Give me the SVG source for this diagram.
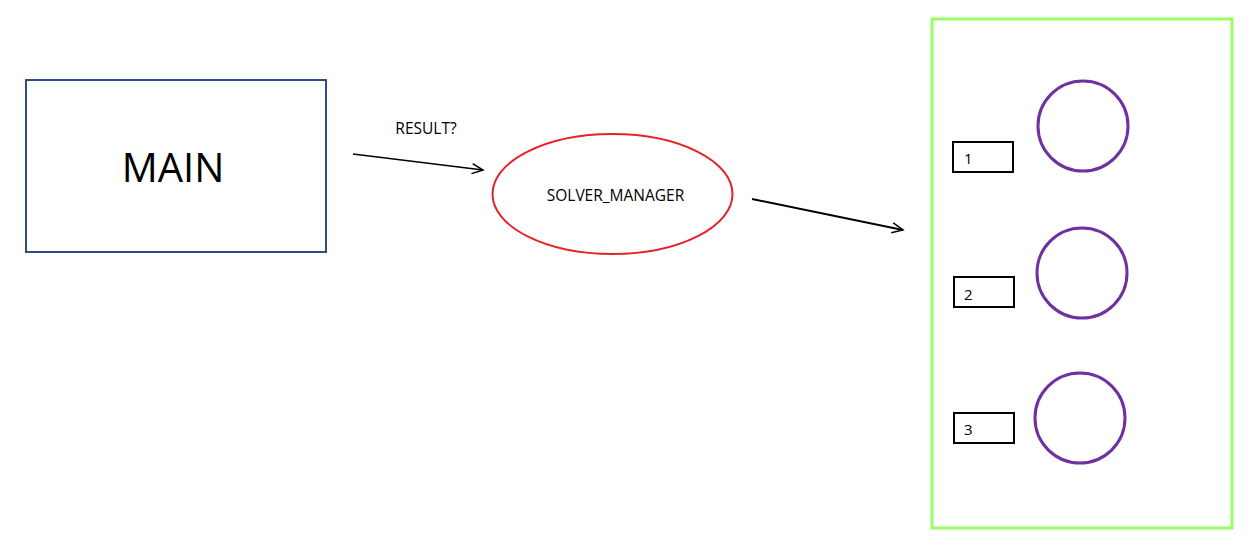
<svg xmlns="http://www.w3.org/2000/svg" width="1257" height="544" viewBox="0 0 1257 544">
<style>
text{font-family:"Open Sans","Noto Sans",sans-serif;fill:#000}
.lbl{font-size:15.5px}
.num{font-size:15px}
.box{fill:#fff;stroke:#000;stroke-width:2}
.circ{fill:none;stroke:#7030A0;stroke-width:3}
.conn{fill:none;stroke:#000}
</style>
<defs>
<marker id="arr" markerWidth="14" markerHeight="12" refX="12" refY="6" orient="auto" markerUnits="userSpaceOnUse">
<path d="M1,1 L12,6 L1,11" fill="none" stroke="#000" stroke-width="1.5"/>
</marker>
</defs>
<rect width="1257" height="544" fill="#fff"/>
<g id="main">
<rect x="26" y="80" width="300" height="172" fill="#fff" stroke="#2F4B8A" stroke-width="2"/>
<text x="173" y="182" font-size="40" text-anchor="middle">MAIN</text>
</g>
<g id="solver_manager">
<ellipse cx="612.5" cy="194" rx="120" ry="60" fill="#fff" stroke="#E8202A" stroke-width="2"/>
<text class="lbl" x="615.5" y="201" text-anchor="middle">SOLVER_MANAGER</text>
</g>
<g id="pool">
<rect x="932" y="19" width="300" height="509" fill="none" stroke="#99FF66" stroke-width="3"/>
</g>
<g id="worker1">
<rect class="box" x="953" y="142" width="60" height="30"/>
<text class="num" x="964" y="164">1</text>
<circle class="circ" cx="1083" cy="126" r="45"/>
</g>
<g id="worker2">
<rect class="box" x="954" y="277" width="60" height="30"/>
<text class="num" x="964" y="300">2</text>
<circle class="circ" cx="1082" cy="273" r="45"/>
</g>
<g id="worker3">
<rect class="box" x="954" y="413" width="60" height="30"/>
<text class="num" x="964" y="435">3</text>
<circle class="circ" cx="1080" cy="418" r="45"/>
</g>
<g id="connectors">
<line class="conn" x1="353" y1="154" x2="483" y2="170" stroke-width="1.5" marker-end="url(#arr)"/>
<text class="lbl" x="426" y="134" text-anchor="middle">RESULT?</text>
<line class="conn" x1="752" y1="199" x2="903" y2="230" stroke-width="2" marker-end="url(#arr)"/>
</g>
</svg>
